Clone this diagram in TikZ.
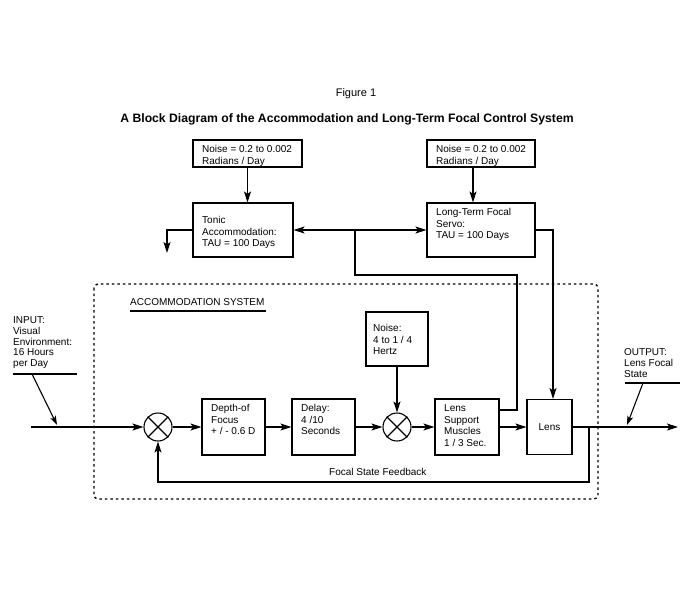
\documentclass[tikz,border=0pt]{standalone}
\usepackage{fontspec}
\setmainfont{Liberation Sans}
\usetikzlibrary{arrows.meta}
\begin{document}
\begin{tikzpicture}[x=1pt,y=-1pt,
  ln/.style={line width=1.1pt},
  arr/.style={ln,-{Stealth[length=11pt,width=7pt,inset=2.5pt]}},
  arrb/.style={ln,{Stealth[length=11pt,width=7pt,inset=2.5pt]}-{Stealth[length=11pt,width=7pt,inset=2.5pt]}},
  box/.style={draw,ln,rectangle,inner sep=0pt},
  sumnode/.style={draw,ln,circle,minimum size=28pt,inner sep=0pt},
  txt/.style={anchor=north west,align=left,inner sep=0pt,font=\fontsize{10}{11.5}\selectfont},
  dashbox/.style={line width=1.3pt,dash pattern=on 2.5pt off 3pt,rounded corners=4pt}]
\useasboundingbox (0,0) rectangle (700,600);
% titles
\node[font=\fontsize{11}{13}\selectfont] (fig) at (356,94) {Figure 1};
\node[font=\bfseries\fontsize{12.2}{14}\selectfont] (title) at (347,119) {A Block Diagram of the Accommodation and Long-Term Focal Control System};
% boxes
\node[box,minimum width=109pt,minimum height=27pt] (noise1) at (247.5,153.5) {};
\node[box,minimum width=100pt,minimum height=54pt] (tonic) at (243,230) {};
\node[box,minimum width=108pt,minimum height=27pt] (noise2) at (481,153.5) {};
\node[box,minimum width=108pt,minimum height=54pt] (lt) at (481,230) {};
\node[box,minimum width=62pt,minimum height=54pt] (noise3) at (397,339) {};
\node[box,minimum width=63pt,minimum height=56pt] (depth) at (233.5,427) {};
\node[box,minimum width=63pt,minimum height=56pt] (delay) at (323.5,427) {};
\node[box,minimum width=64pt,minimum height=56pt] (ls) at (467,427) {};
\node[box,minimum width=45pt,minimum height=55pt,font=\fontsize{10}{11.5}\selectfont] (lens) at (549.5,427) {Lens};
\node[sumnode] (sum1) at (158,427) {};
\node[sumnode] (sum2) at (397,427) {};
\draw[ln] (sum1.north west) -- (sum1.south east) (sum1.north east) -- (sum1.south west);
\draw[ln] (sum2.north west) -- (sum2.south east) (sum2.north east) -- (sum2.south west);
% texts
\node[txt] (t1) at (202,145.5) {Noise = 0.2 to 0.002\\Radians / Day};
\node[txt] (t2) at (436,145.5) {Noise = 0.2 to 0.002\\Radians / Day};
\node[txt] (t3) at (202,216.5) {Tonic\\Accommodation:\\TAU = 100 Days};
\node[txt] (t4) at (436,208.5) {Long-Term Focal\\Servo:\\TAU = 100 Days};
\node[txt] (t5) at (373,324.5) {Noise:\\4 to 1 / 4\\Hertz};
\node[txt] (t6) at (211,404.5) {Depth-of\\Focus\\+ / - 0.6 D};
\node[txt] (t7) at (301,404.5) {Delay:\\4 /10\\Seconds};
\node[txt] (t8) at (444,404.5) {Lens\\Support\\Muscles\\1 / 3 Sec.};
\node[txt,font=\fontsize{10}{10.8}\selectfont] (inp) at (13,316.5) {INPUT:\\Visual\\Environment:\\16 Hours\\per Day};
\node[txt,font=\fontsize{10}{11}\selectfont] (outp) at (624,348.5) {OUTPUT:\\Lens Focal\\State};
\node[txt] (acc) at (130,298.5) {ACCOMMODATION SYSTEM};
\node[txt] (fsf) at (329,468.5) {Focal State Feedback};
% dashed system box
\draw[dashbox] (94,284) rectangle (598,499);
\draw[line width=2pt] (130,311) -- (266,311);
% coordinates
\coordinate (tonicout) at (167,253);
\coordinate (j1) at (355,230);
\coordinate (k1) at (517,275);
\coordinate (k2) at (355,275);
\coordinate (k3) at (553,230);
\coordinate (inL) at (31,427);
\coordinate (outR) at (678,427);
\coordinate (fb) at (589,427);
\coordinate (fb1) at (589,482);
\coordinate (iu1) at (13,374);
\coordinate (iu2) at (77,374);
\coordinate (id1) at (32,374);
\coordinate (id2) at (57,425);
\coordinate (ou1) at (625,383);
\coordinate (ou2) at (680,383);
\coordinate (od1) at (643,383);
\coordinate (od2) at (627,425);
% connectors
\draw[arr] (noise1.south) -- (noise1.south |- tonic.north);
\draw[arr] ([xshift=-8pt]noise2.south) -- ([xshift=-8pt]noise2.south |- lt.north);
\draw[arr] (tonic.west) -| (tonicout);
\draw[arrb] (tonic.east) -- (lt.west);
\draw[ln] ([yshift=17pt]ls.east) -| (k1) -- (k2) -- (j1);
\draw[arr] (lt.east) -- (k3) -- (k3 |- lens.north);
\draw[arr] (inL) -- (sum1.west);
\draw[arr] (sum1.east) -- (depth.west);
\draw[arr] (depth.east) -- (delay.west);
\draw[arr] (delay.east) -- (sum2.west);
\draw[arr] (noise3.south) -- (sum2.north);
\draw[arr] (sum2.east) -- (ls.west);
\draw[arr] (ls.east) -- (lens.west);
\draw[arr] (lens.east) -- (outR);
\draw[arr] (fb) -- (fb1) -| (sum1.south);
\draw[ln] (iu1) -- (iu2);
\draw[ln,-{Stealth[length=9pt,width=6pt,inset=2pt]}] (id1) -- (id2);
\draw[ln] (ou1) -- (ou2);
\draw[ln,-{Stealth[length=9pt,width=6pt,inset=2pt]}] (od1) -- (od2);
\end{tikzpicture}
\end{document}
